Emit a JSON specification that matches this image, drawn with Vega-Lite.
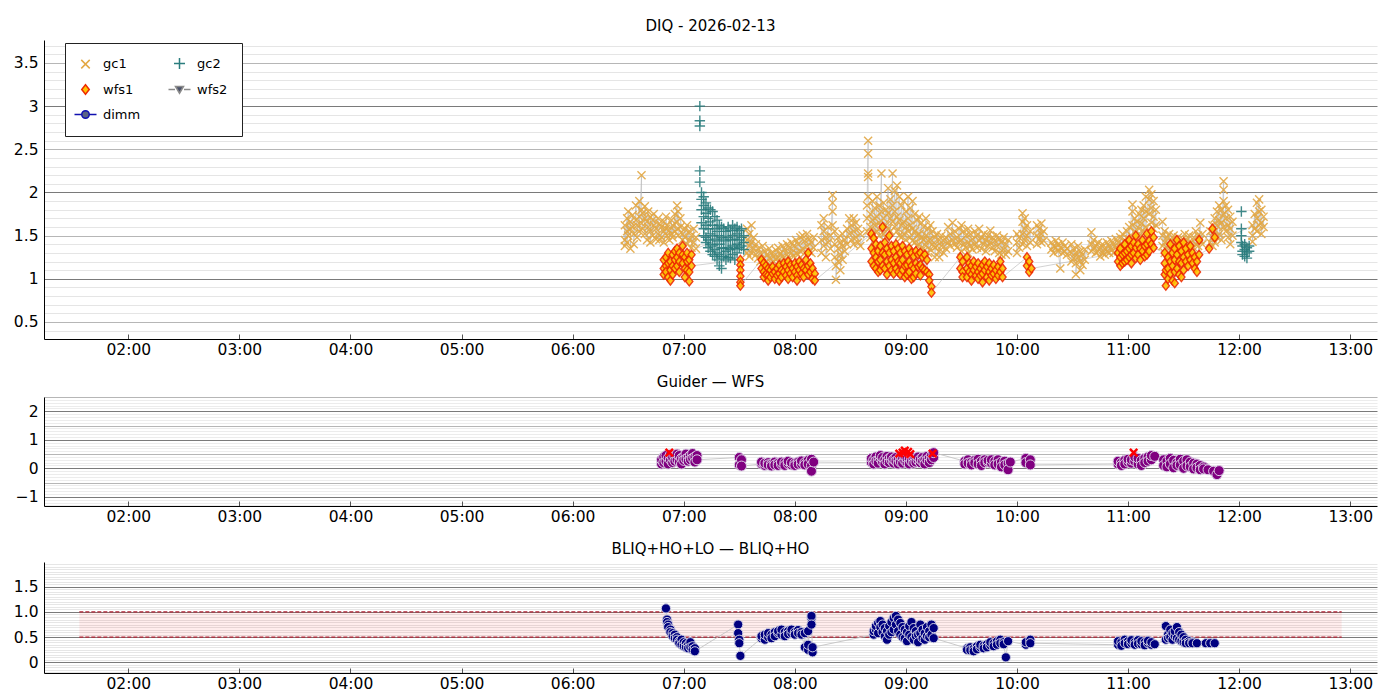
{
  "$schema": "https://vega.github.io/schema/vega-lite/v6.json",
  "padding": {"left": 0, "top": 18, "right": 23, "bottom": 4},
  "spacing": 17,
  "config": {
    "font": "DejaVu Sans",
    "view": {"stroke": null},
    "axis": {"labelFont": "DejaVu Sans", "labelFontSize": 15.5, "labelColor": "black", "domainColor": "black", "title": null},
    "title": {"font": "DejaVu Sans", "fontSize": 15, "fontWeight": "normal", "color": "black", "anchor": "middle", "offset": 0}
  },
  "datasets": {
    "top": [
      {"s":"gc1","t":6.47,"v":1.45},{"s":"gc1","t":6.47,"v":1.62},{"s":"gc1","t":6.47,"v":1.38},
      {"s":"gc1","t":6.49,"v":1.70},{"s":"gc1","t":6.49,"v":1.55},{"s":"gc1","t":6.49,"v":1.42},
      {"s":"gc1","t":6.50,"v":1.78},{"s":"gc1","t":6.50,"v":1.50},
      {"s":"gc1","t":6.52,"v":1.66},{"s":"gc1","t":6.52,"v":1.35},{"s":"gc1","t":6.52,"v":1.58},
      {"s":"gc1","t":6.54,"v":1.74},{"s":"gc1","t":6.54,"v":1.60},
      {"s":"gc1","t":6.55,"v":1.52},{"s":"gc1","t":6.55,"v":1.40},
      {"s":"gc1","t":6.57,"v":1.85},{"s":"gc1","t":6.57,"v":1.68},
      {"s":"gc1","t":6.58,"v":1.62},{"s":"gc1","t":6.58,"v":1.48},
      {"s":"gc1","t":6.60,"v":1.90},{"s":"gc1","t":6.60,"v":1.72},{"s":"gc1","t":6.60,"v":1.55},
      {"s":"gc1","t":6.62,"v":2.20},{"s":"gc1","t":6.62,"v":1.80},{"s":"gc1","t":6.62,"v":1.64},
      {"s":"gc1","t":6.63,"v":1.58},{"s":"gc1","t":6.63,"v":1.76},
      {"s":"gc1","t":6.65,"v":1.70},{"s":"gc1","t":6.65,"v":1.52},{"s":"gc1","t":6.65,"v":1.84},
      {"s":"gc1","t":6.67,"v":1.66},{"s":"gc1","t":6.67,"v":1.45},
      {"s":"gc1","t":6.68,"v":1.78},{"s":"gc1","t":6.68,"v":1.60},
      {"s":"gc1","t":6.70,"v":1.55},{"s":"gc1","t":6.70,"v":1.72},{"s":"gc1","t":6.70,"v":1.42},
      {"s":"gc1","t":6.72,"v":1.68},{"s":"gc1","t":6.72,"v":1.50},
      {"s":"gc1","t":6.73,"v":1.62},{"s":"gc1","t":6.73,"v":1.75},
      {"s":"gc1","t":6.75,"v":1.58},{"s":"gc1","t":6.75,"v":1.46},
      {"s":"gc1","t":6.77,"v":1.70},{"s":"gc1","t":6.77,"v":1.52},
      {"s":"gc1","t":6.78,"v":1.45},{"s":"gc1","t":6.78,"v":1.64},
      {"s":"gc1","t":6.80,"v":1.60},{"s":"gc1","t":6.80,"v":1.48},
      {"s":"gc1","t":6.82,"v":1.66},{"s":"gc1","t":6.82,"v":1.55},{"s":"gc1","t":6.82,"v":1.42},
      {"s":"gc1","t":6.84,"v":1.58},{"s":"gc1","t":6.84,"v":1.72},
      {"s":"gc1","t":6.85,"v":1.50},{"s":"gc1","t":6.85,"v":1.62},
      {"s":"gc1","t":6.87,"v":1.56},{"s":"gc1","t":6.87,"v":1.45},
      {"s":"gc1","t":6.89,"v":1.68},{"s":"gc1","t":6.89,"v":1.52},
      {"s":"gc1","t":6.90,"v":1.62},{"s":"gc1","t":6.90,"v":1.48},
      {"s":"gc1","t":6.92,"v":1.75},{"s":"gc1","t":6.92,"v":1.55},
      {"s":"gc1","t":6.94,"v":1.85},{"s":"gc1","t":6.94,"v":1.66},
      {"s":"gc1","t":6.95,"v":1.78},{"s":"gc1","t":6.95,"v":1.58},{"s":"gc1","t":6.95,"v":1.50},
      {"s":"gc1","t":6.97,"v":1.60},{"s":"gc1","t":6.97,"v":1.70},
      {"s":"gc1","t":6.99,"v":1.52},{"s":"gc1","t":6.99,"v":1.45},
      {"s":"gc1","t":7.01,"v":1.58},{"s":"gc1","t":7.01,"v":1.48},
      {"s":"gc1","t":7.03,"v":1.62},{"s":"gc1","t":7.03,"v":1.40},
      {"s":"gc1","t":7.05,"v":1.55},{"s":"gc1","t":7.05,"v":1.45},
      {"s":"gc1","t":7.07,"v":1.50},{"s":"gc1","t":7.07,"v":1.36},
      {"s":"gc1","t":7.09,"v":1.58},{"s":"gc1","t":7.09,"v":1.42},
      {"s":"gc1","t":7.11,"v":1.48},{"s":"gc1","t":7.11,"v":1.35},
      {"s":"gc1","t":7.57,"v":1.58},{"s":"gc1","t":7.57,"v":1.45},{"s":"gc1","t":7.57,"v":1.30},
      {"s":"gc1","t":7.59,"v":1.52},{"s":"gc1","t":7.59,"v":1.38},{"s":"gc1","t":7.59,"v":1.26},
      {"s":"gc1","t":7.61,"v":1.62},{"s":"gc1","t":7.61,"v":1.42},{"s":"gc1","t":7.61,"v":1.30},
      {"s":"gc1","t":7.63,"v":1.48},{"s":"gc1","t":7.63,"v":1.35},
      {"s":"gc1","t":7.65,"v":1.40},{"s":"gc1","t":7.65,"v":1.28},
      {"s":"gc1","t":7.67,"v":1.35},{"s":"gc1","t":7.67,"v":1.24},
      {"s":"gc1","t":7.69,"v":1.30},{"s":"gc1","t":7.69,"v":1.20},
      {"s":"gc1","t":7.71,"v":1.38},{"s":"gc1","t":7.71,"v":1.22},
      {"s":"gc1","t":7.73,"v":1.32},{"s":"gc1","t":7.73,"v":1.18},
      {"s":"gc1","t":7.75,"v":1.28},{"s":"gc1","t":7.75,"v":1.20},
      {"s":"gc1","t":7.77,"v":1.35},{"s":"gc1","t":7.77,"v":1.24},
      {"s":"gc1","t":7.79,"v":1.30},{"s":"gc1","t":7.79,"v":1.18},
      {"s":"gc1","t":7.81,"v":1.26},{"s":"gc1","t":7.81,"v":1.20},
      {"s":"gc1","t":7.83,"v":1.33},{"s":"gc1","t":7.83,"v":1.22},
      {"s":"gc1","t":7.85,"v":1.36},{"s":"gc1","t":7.85,"v":1.25},
      {"s":"gc1","t":7.87,"v":1.30},{"s":"gc1","t":7.87,"v":1.20},
      {"s":"gc1","t":7.89,"v":1.38},{"s":"gc1","t":7.89,"v":1.26},
      {"s":"gc1","t":7.91,"v":1.34},{"s":"gc1","t":7.91,"v":1.22},
      {"s":"gc1","t":7.93,"v":1.40},{"s":"gc1","t":7.93,"v":1.28},
      {"s":"gc1","t":7.95,"v":1.36},{"s":"gc1","t":7.95,"v":1.24},
      {"s":"gc1","t":7.97,"v":1.42},{"s":"gc1","t":7.97,"v":1.30},
      {"s":"gc1","t":7.99,"v":1.38},{"s":"gc1","t":7.99,"v":1.26},
      {"s":"gc1","t":8.01,"v":1.45},{"s":"gc1","t":8.01,"v":1.30},
      {"s":"gc1","t":8.03,"v":1.40},{"s":"gc1","t":8.03,"v":1.28},
      {"s":"gc1","t":8.05,"v":1.48},{"s":"gc1","t":8.05,"v":1.32},
      {"s":"gc1","t":8.07,"v":1.50},{"s":"gc1","t":8.07,"v":1.35},
      {"s":"gc1","t":8.09,"v":1.44},{"s":"gc1","t":8.09,"v":1.30},
      {"s":"gc1","t":8.11,"v":1.52},{"s":"gc1","t":8.11,"v":1.38},
      {"s":"gc1","t":8.13,"v":1.46},{"s":"gc1","t":8.13,"v":1.32},
      {"s":"gc1","t":8.15,"v":1.42},{"s":"gc1","t":8.15,"v":1.30},
      {"s":"gc1","t":8.17,"v":1.48},{"s":"gc1","t":8.17,"v":1.36},
      {"s":"gc1","t":8.24,"v":1.45},{"s":"gc1","t":8.24,"v":1.30},{"s":"gc1","t":8.24,"v":1.62},
      {"s":"gc1","t":8.26,"v":1.55},{"s":"gc1","t":8.26,"v":1.38},{"s":"gc1","t":8.26,"v":1.70},
      {"s":"gc1","t":8.28,"v":1.48},{"s":"gc1","t":8.28,"v":1.25},
      {"s":"gc1","t":8.30,"v":1.60},{"s":"gc1","t":8.30,"v":1.42},
      {"s":"gc1","t":8.32,"v":1.50},{"s":"gc1","t":8.32,"v":1.35},
      {"s":"gc1","t":8.34,"v":1.97},{"s":"gc1","t":8.34,"v":1.88},{"s":"gc1","t":8.34,"v":1.78},{"s":"gc1","t":8.34,"v":1.62},
      {"s":"gc1","t":8.36,"v":1.55},{"s":"gc1","t":8.36,"v":1.40},{"s":"gc1","t":8.36,"v":1.25},
      {"s":"gc1","t":8.37,"v":1.15},{"s":"gc1","t":8.37,"v":0.99},
      {"s":"gc1","t":8.39,"v":1.35},{"s":"gc1","t":8.39,"v":1.20},{"s":"gc1","t":8.39,"v":1.48},
      {"s":"gc1","t":8.41,"v":1.42},{"s":"gc1","t":8.41,"v":1.28},{"s":"gc1","t":8.41,"v":1.10},
      {"s":"gc1","t":8.43,"v":1.38},{"s":"gc1","t":8.43,"v":1.22},{"s":"gc1","t":8.43,"v":1.52},
      {"s":"gc1","t":8.45,"v":1.45},{"s":"gc1","t":8.45,"v":1.32},
      {"s":"gc1","t":8.47,"v":1.58},{"s":"gc1","t":8.47,"v":1.40},
      {"s":"gc1","t":8.49,"v":1.70},{"s":"gc1","t":8.49,"v":1.52},
      {"s":"gc1","t":8.51,"v":1.62},{"s":"gc1","t":8.51,"v":1.45},
      {"s":"gc1","t":8.53,"v":1.70},{"s":"gc1","t":8.53,"v":1.55},{"s":"gc1","t":8.53,"v":1.40},
      {"s":"gc1","t":8.55,"v":1.65},{"s":"gc1","t":8.55,"v":1.48},
      {"s":"gc1","t":8.57,"v":1.58},{"s":"gc1","t":8.57,"v":1.42},
      {"s":"gc1","t":8.59,"v":1.52},{"s":"gc1","t":8.59,"v":1.38},
      {"s":"gc1","t":8.65,"v":1.55},{"s":"gc1","t":8.65,"v":1.70},{"s":"gc1","t":8.65,"v":1.85},
      {"s":"gc1","t":8.66,"v":2.60},{"s":"gc1","t":8.66,"v":2.45},{"s":"gc1","t":8.66,"v":2.22},{"s":"gc1","t":8.66,"v":2.18},{"s":"gc1","t":8.66,"v":1.95},
      {"s":"gc1","t":8.68,"v":1.75},{"s":"gc1","t":8.68,"v":1.60},{"s":"gc1","t":8.68,"v":1.48},
      {"s":"gc1","t":8.70,"v":1.90},{"s":"gc1","t":8.70,"v":1.68},{"s":"gc1","t":8.70,"v":1.52},
      {"s":"gc1","t":8.72,"v":1.82},{"s":"gc1","t":8.72,"v":1.62},{"s":"gc1","t":8.72,"v":1.45},
      {"s":"gc1","t":8.74,"v":1.95},{"s":"gc1","t":8.74,"v":1.72},{"s":"gc1","t":8.74,"v":1.55},
      {"s":"gc1","t":8.76,"v":1.85},{"s":"gc1","t":8.76,"v":1.65},{"s":"gc1","t":8.76,"v":1.50},
      {"s":"gc1","t":8.78,"v":2.22},{"s":"gc1","t":8.78,"v":1.78},{"s":"gc1","t":8.78,"v":1.60},
      {"s":"gc1","t":8.80,"v":1.88},{"s":"gc1","t":8.80,"v":1.70},{"s":"gc1","t":8.80,"v":1.52},
      {"s":"gc1","t":8.82,"v":1.80},{"s":"gc1","t":8.82,"v":1.62},{"s":"gc1","t":8.82,"v":1.48},
      {"s":"gc1","t":8.84,"v":2.05},{"s":"gc1","t":8.84,"v":1.76},{"s":"gc1","t":8.84,"v":1.58},
      {"s":"gc1","t":8.86,"v":1.92},{"s":"gc1","t":8.86,"v":1.70},{"s":"gc1","t":8.86,"v":1.55},
      {"s":"gc1","t":8.88,"v":2.22},{"s":"gc1","t":8.88,"v":1.85},{"s":"gc1","t":8.88,"v":1.66},
      {"s":"gc1","t":8.90,"v":2.02},{"s":"gc1","t":8.90,"v":1.78},{"s":"gc1","t":8.90,"v":1.60},
      {"s":"gc1","t":8.92,"v":2.08},{"s":"gc1","t":8.92,"v":1.72},{"s":"gc1","t":8.92,"v":1.55},
      {"s":"gc1","t":8.94,"v":1.95},{"s":"gc1","t":8.94,"v":1.68},{"s":"gc1","t":8.94,"v":1.50},
      {"s":"gc1","t":8.96,"v":1.85},{"s":"gc1","t":8.96,"v":1.62},{"s":"gc1","t":8.96,"v":1.48},
      {"s":"gc1","t":8.98,"v":1.90},{"s":"gc1","t":8.98,"v":1.66},{"s":"gc1","t":8.98,"v":1.52},
      {"s":"gc1","t":9.00,"v":1.78},{"s":"gc1","t":9.00,"v":1.60},{"s":"gc1","t":9.00,"v":1.45},
      {"s":"gc1","t":9.02,"v":1.95},{"s":"gc1","t":9.02,"v":1.70},{"s":"gc1","t":9.02,"v":1.55},
      {"s":"gc1","t":9.04,"v":1.82},{"s":"gc1","t":9.04,"v":1.62},{"s":"gc1","t":9.04,"v":1.48},
      {"s":"gc1","t":9.06,"v":1.90},{"s":"gc1","t":9.06,"v":1.58},{"s":"gc1","t":9.06,"v":1.44},
      {"s":"gc1","t":9.08,"v":1.75},{"s":"gc1","t":9.08,"v":1.55},{"s":"gc1","t":9.08,"v":1.42},
      {"s":"gc1","t":9.10,"v":1.68},{"s":"gc1","t":9.10,"v":1.50},{"s":"gc1","t":9.10,"v":1.38},
      {"s":"gc1","t":9.12,"v":1.72},{"s":"gc1","t":9.12,"v":1.52},{"s":"gc1","t":9.12,"v":1.40},
      {"s":"gc1","t":9.14,"v":1.65},{"s":"gc1","t":9.14,"v":1.48},{"s":"gc1","t":9.14,"v":1.36},
      {"s":"gc1","t":9.16,"v":1.60},{"s":"gc1","t":9.16,"v":1.45},{"s":"gc1","t":9.16,"v":1.32},
      {"s":"gc1","t":9.18,"v":1.70},{"s":"gc1","t":9.18,"v":1.50},{"s":"gc1","t":9.18,"v":1.38},
      {"s":"gc1","t":9.20,"v":1.58},{"s":"gc1","t":9.20,"v":1.44},{"s":"gc1","t":9.20,"v":1.30},
      {"s":"gc1","t":9.22,"v":1.62},{"s":"gc1","t":9.22,"v":1.46},{"s":"gc1","t":9.22,"v":1.34},
      {"s":"gc1","t":9.24,"v":1.55},{"s":"gc1","t":9.24,"v":1.40},
      {"s":"gc1","t":9.26,"v":1.48},{"s":"gc1","t":9.26,"v":1.36},{"s":"gc1","t":9.26,"v":1.25},
      {"s":"gc1","t":9.28,"v":1.52},{"s":"gc1","t":9.28,"v":1.38},
      {"s":"gc1","t":9.30,"v":1.45},{"s":"gc1","t":9.30,"v":1.32},{"s":"gc1","t":9.30,"v":1.25},
      {"s":"gc1","t":9.32,"v":1.50},{"s":"gc1","t":9.32,"v":1.38},
      {"s":"gc1","t":9.34,"v":1.44},{"s":"gc1","t":9.34,"v":1.30},
      {"s":"gc1","t":9.36,"v":1.48},{"s":"gc1","t":9.36,"v":1.35},
      {"s":"gc1","t":9.38,"v":1.60},{"s":"gc1","t":9.38,"v":1.42},
      {"s":"gc1","t":9.40,"v":1.52},{"s":"gc1","t":9.40,"v":1.38},
      {"s":"gc1","t":9.42,"v":1.65},{"s":"gc1","t":9.42,"v":1.45},
      {"s":"gc1","t":9.44,"v":1.55},{"s":"gc1","t":9.44,"v":1.40},
      {"s":"gc1","t":9.46,"v":1.48},{"s":"gc1","t":9.46,"v":1.36},
      {"s":"gc1","t":9.48,"v":1.58},{"s":"gc1","t":9.48,"v":1.42},
      {"s":"gc1","t":9.50,"v":1.62},{"s":"gc1","t":9.50,"v":1.45},{"s":"gc1","t":9.50,"v":1.32},
      {"s":"gc1","t":9.52,"v":1.55},{"s":"gc1","t":9.52,"v":1.40},
      {"s":"gc1","t":9.54,"v":1.50},{"s":"gc1","t":9.54,"v":1.36},
      {"s":"gc1","t":9.56,"v":1.58},{"s":"gc1","t":9.56,"v":1.42},{"s":"gc1","t":9.56,"v":1.30},
      {"s":"gc1","t":9.58,"v":1.52},{"s":"gc1","t":9.58,"v":1.38},
      {"s":"gc1","t":9.60,"v":1.46},{"s":"gc1","t":9.60,"v":1.34},
      {"s":"gc1","t":9.62,"v":1.55},{"s":"gc1","t":9.62,"v":1.40},
      {"s":"gc1","t":9.64,"v":1.50},{"s":"gc1","t":9.64,"v":1.36},
      {"s":"gc1","t":9.66,"v":1.58},{"s":"gc1","t":9.66,"v":1.44},
      {"s":"gc1","t":9.68,"v":1.48},{"s":"gc1","t":9.68,"v":1.35},
      {"s":"gc1","t":9.70,"v":1.52},{"s":"gc1","t":9.70,"v":1.40},
      {"s":"gc1","t":9.72,"v":1.45},{"s":"gc1","t":9.72,"v":1.32},
      {"s":"gc1","t":9.74,"v":1.50},{"s":"gc1","t":9.74,"v":1.38},
      {"s":"gc1","t":9.76,"v":1.56},{"s":"gc1","t":9.76,"v":1.42},
      {"s":"gc1","t":9.78,"v":1.48},{"s":"gc1","t":9.78,"v":1.36},
      {"s":"gc1","t":9.80,"v":1.44},{"s":"gc1","t":9.80,"v":1.32},
      {"s":"gc1","t":9.82,"v":1.50},{"s":"gc1","t":9.82,"v":1.38},
      {"s":"gc1","t":9.84,"v":1.46},{"s":"gc1","t":9.84,"v":1.30},
      {"s":"gc1","t":9.86,"v":1.42},{"s":"gc1","t":9.86,"v":1.28},
      {"s":"gc1","t":9.88,"v":1.48},{"s":"gc1","t":9.88,"v":1.34},
      {"s":"gc1","t":9.90,"v":1.40},{"s":"gc1","t":9.90,"v":1.28},
      {"s":"gc1","t":9.92,"v":1.45},{"s":"gc1","t":9.92,"v":1.32},
      {"s":"gc1","t":10.00,"v":1.42},{"s":"gc1","t":10.00,"v":1.30},{"s":"gc1","t":10.00,"v":1.52},
      {"s":"gc1","t":10.02,"v":1.48},{"s":"gc1","t":10.02,"v":1.36},
      {"s":"gc1","t":10.05,"v":1.76},{"s":"gc1","t":10.05,"v":1.66},{"s":"gc1","t":10.05,"v":1.52},{"s":"gc1","t":10.05,"v":1.40},
      {"s":"gc1","t":10.07,"v":1.70},{"s":"gc1","t":10.07,"v":1.58},{"s":"gc1","t":10.07,"v":1.45},
      {"s":"gc1","t":10.09,"v":1.62},{"s":"gc1","t":10.09,"v":1.50},{"s":"gc1","t":10.09,"v":1.38},
      {"s":"gc1","t":10.12,"v":1.55},{"s":"gc1","t":10.12,"v":1.42},
      {"s":"gc1","t":10.18,"v":1.62},{"s":"gc1","t":10.18,"v":1.50},{"s":"gc1","t":10.18,"v":1.40},
      {"s":"gc1","t":10.20,"v":1.58},{"s":"gc1","t":10.20,"v":1.46},
      {"s":"gc1","t":10.22,"v":1.64},{"s":"gc1","t":10.22,"v":1.52},{"s":"gc1","t":10.22,"v":1.42},
      {"s":"gc1","t":10.24,"v":1.55},{"s":"gc1","t":10.24,"v":1.44},
      {"s":"gc1","t":10.31,"v":1.42},{"s":"gc1","t":10.31,"v":1.34},
      {"s":"gc1","t":10.33,"v":1.38},{"s":"gc1","t":10.33,"v":1.30},
      {"s":"gc1","t":10.35,"v":1.44},{"s":"gc1","t":10.35,"v":1.36},
      {"s":"gc1","t":10.37,"v":1.40},{"s":"gc1","t":10.37,"v":1.32},
      {"s":"gc1","t":10.39,"v":1.12},{"s":"gc1","t":10.39,"v":1.36},
      {"s":"gc1","t":10.41,"v":1.42},{"s":"gc1","t":10.41,"v":1.30},
      {"s":"gc1","t":10.43,"v":1.38},{"s":"gc1","t":10.43,"v":1.32},
      {"s":"gc1","t":10.45,"v":1.35},{"s":"gc1","t":10.45,"v":1.28},
      {"s":"gc1","t":10.49,"v":1.40},{"s":"gc1","t":10.49,"v":1.30},{"s":"gc1","t":10.49,"v":1.20},
      {"s":"gc1","t":10.51,"v":1.35},{"s":"gc1","t":10.51,"v":1.24},
      {"s":"gc1","t":10.53,"v":1.30},{"s":"gc1","t":10.53,"v":1.18},{"s":"gc1","t":10.53,"v":1.05},
      {"s":"gc1","t":10.55,"v":1.38},{"s":"gc1","t":10.55,"v":1.25},
      {"s":"gc1","t":10.57,"v":1.32},{"s":"gc1","t":10.57,"v":1.20},{"s":"gc1","t":10.57,"v":1.10},
      {"s":"gc1","t":10.59,"v":1.28},{"s":"gc1","t":10.59,"v":1.16},
      {"s":"gc1","t":10.61,"v":1.34},{"s":"gc1","t":10.61,"v":1.22},
      {"s":"gc1","t":10.67,"v":1.54},{"s":"gc1","t":10.67,"v":1.40},{"s":"gc1","t":10.67,"v":1.32},
      {"s":"gc1","t":10.69,"v":1.45},{"s":"gc1","t":10.69,"v":1.35},
      {"s":"gc1","t":10.71,"v":1.38},{"s":"gc1","t":10.71,"v":1.30},
      {"s":"gc1","t":10.73,"v":1.42},{"s":"gc1","t":10.73,"v":1.32},
      {"s":"gc1","t":10.75,"v":1.36},{"s":"gc1","t":10.75,"v":1.26},
      {"s":"gc1","t":10.77,"v":1.40},{"s":"gc1","t":10.77,"v":1.30},
      {"s":"gc1","t":10.79,"v":1.35},{"s":"gc1","t":10.79,"v":1.28},
      {"s":"gc1","t":10.81,"v":1.42},{"s":"gc1","t":10.81,"v":1.32},
      {"s":"gc1","t":10.83,"v":1.38},{"s":"gc1","t":10.83,"v":1.30},
      {"s":"gc1","t":10.85,"v":1.44},{"s":"gc1","t":10.85,"v":1.34},
      {"s":"gc1","t":10.87,"v":1.40},{"s":"gc1","t":10.87,"v":1.30},
      {"s":"gc1","t":10.89,"v":1.46},{"s":"gc1","t":10.89,"v":1.36},
      {"s":"gc1","t":10.91,"v":1.42},{"s":"gc1","t":10.91,"v":1.32},
      {"s":"gc1","t":10.93,"v":1.48},{"s":"gc1","t":10.93,"v":1.36},
      {"s":"gc1","t":10.95,"v":1.52},{"s":"gc1","t":10.95,"v":1.40},
      {"s":"gc1","t":10.97,"v":1.45},{"s":"gc1","t":10.97,"v":1.35},
      {"s":"gc1","t":10.99,"v":1.55},{"s":"gc1","t":10.99,"v":1.42},
      {"s":"gc1","t":11.01,"v":1.60},{"s":"gc1","t":11.01,"v":1.46},
      {"s":"gc1","t":11.04,"v":1.86},{"s":"gc1","t":11.04,"v":1.78},{"s":"gc1","t":11.04,"v":1.62},{"s":"gc1","t":11.04,"v":1.48},
      {"s":"gc1","t":11.06,"v":1.70},{"s":"gc1","t":11.06,"v":1.55},
      {"s":"gc1","t":11.08,"v":1.66},{"s":"gc1","t":11.08,"v":1.50},
      {"s":"gc1","t":11.10,"v":1.75},{"s":"gc1","t":11.10,"v":1.58},
      {"s":"gc1","t":11.12,"v":1.80},{"s":"gc1","t":11.12,"v":1.64},{"s":"gc1","t":11.12,"v":1.50},
      {"s":"gc1","t":11.14,"v":1.85},{"s":"gc1","t":11.14,"v":1.70},{"s":"gc1","t":11.14,"v":1.55},
      {"s":"gc1","t":11.16,"v":1.95},{"s":"gc1","t":11.16,"v":1.78},{"s":"gc1","t":11.16,"v":1.60},
      {"s":"gc1","t":11.19,"v":2.03},{"s":"gc1","t":11.19,"v":1.92},{"s":"gc1","t":11.19,"v":1.75},
      {"s":"gc1","t":11.21,"v":1.98},{"s":"gc1","t":11.21,"v":1.82},{"s":"gc1","t":11.21,"v":1.65},
      {"s":"gc1","t":11.23,"v":1.90},{"s":"gc1","t":11.23,"v":1.72},{"s":"gc1","t":11.23,"v":1.58},
      {"s":"gc1","t":11.25,"v":1.80},{"s":"gc1","t":11.25,"v":1.62},
      {"s":"gc1","t":11.31,"v":1.66},{"s":"gc1","t":11.31,"v":1.50},{"s":"gc1","t":11.31,"v":1.38},
      {"s":"gc1","t":11.33,"v":1.55},{"s":"gc1","t":11.33,"v":1.42},{"s":"gc1","t":11.33,"v":1.30},
      {"s":"gc1","t":11.35,"v":1.48},{"s":"gc1","t":11.35,"v":1.36},
      {"s":"gc1","t":11.37,"v":1.52},{"s":"gc1","t":11.37,"v":1.40},{"s":"gc1","t":11.37,"v":1.28},
      {"s":"gc1","t":11.39,"v":1.45},{"s":"gc1","t":11.39,"v":1.34},
      {"s":"gc1","t":11.41,"v":1.50},{"s":"gc1","t":11.41,"v":1.38},
      {"s":"gc1","t":11.43,"v":1.42},{"s":"gc1","t":11.43,"v":1.30},
      {"s":"gc1","t":11.45,"v":1.48},{"s":"gc1","t":11.45,"v":1.36},
      {"s":"gc1","t":11.47,"v":1.40},{"s":"gc1","t":11.47,"v":1.28},
      {"s":"gc1","t":11.49,"v":1.46},{"s":"gc1","t":11.49,"v":1.34},
      {"s":"gc1","t":11.51,"v":1.52},{"s":"gc1","t":11.51,"v":1.38},
      {"s":"gc1","t":11.53,"v":1.45},{"s":"gc1","t":11.53,"v":1.32},
      {"s":"gc1","t":11.55,"v":1.50},{"s":"gc1","t":11.55,"v":1.40},
      {"s":"gc1","t":11.57,"v":1.42},{"s":"gc1","t":11.57,"v":1.30},
      {"s":"gc1","t":11.59,"v":1.48},{"s":"gc1","t":11.59,"v":1.36},
      {"s":"gc1","t":11.61,"v":1.55},{"s":"gc1","t":11.61,"v":1.40},
      {"s":"gc1","t":11.63,"v":1.50},{"s":"gc1","t":11.63,"v":1.38},
      {"s":"gc1","t":11.65,"v":1.65},{"s":"gc1","t":11.65,"v":1.45},
      {"s":"gc1","t":11.67,"v":1.52},{"s":"gc1","t":11.67,"v":1.40},
      {"s":"gc1","t":11.74,"v":1.55},{"s":"gc1","t":11.74,"v":1.42},
      {"s":"gc1","t":11.76,"v":1.62},{"s":"gc1","t":11.76,"v":1.48},{"s":"gc1","t":11.76,"v":1.38},
      {"s":"gc1","t":11.78,"v":1.70},{"s":"gc1","t":11.78,"v":1.55},{"s":"gc1","t":11.78,"v":1.42},
      {"s":"gc1","t":11.80,"v":1.78},{"s":"gc1","t":11.80,"v":1.62},{"s":"gc1","t":11.80,"v":1.48},
      {"s":"gc1","t":11.82,"v":1.85},{"s":"gc1","t":11.82,"v":1.68},{"s":"gc1","t":11.82,"v":1.52},
      {"s":"gc1","t":11.84,"v":1.80},{"s":"gc1","t":11.84,"v":1.65},{"s":"gc1","t":11.84,"v":1.45},
      {"s":"gc1","t":11.86,"v":2.13},{"s":"gc1","t":11.86,"v":2.03},{"s":"gc1","t":11.86,"v":1.90},{"s":"gc1","t":11.86,"v":1.75},{"s":"gc1","t":11.86,"v":1.60},
      {"s":"gc1","t":11.88,"v":1.85},{"s":"gc1","t":11.88,"v":1.70},{"s":"gc1","t":11.88,"v":1.55},
      {"s":"gc1","t":11.90,"v":1.80},{"s":"gc1","t":11.90,"v":1.62},{"s":"gc1","t":11.90,"v":1.48},
      {"s":"gc1","t":11.92,"v":1.72},{"s":"gc1","t":11.92,"v":1.58},{"s":"gc1","t":11.92,"v":1.40},
      {"s":"gc1","t":11.94,"v":1.66},{"s":"gc1","t":11.94,"v":1.50},
      {"s":"gc1","t":12.12,"v":1.62},{"s":"gc1","t":12.12,"v":1.50},{"s":"gc1","t":12.12,"v":1.43},
      {"s":"gc1","t":12.14,"v":1.75},{"s":"gc1","t":12.14,"v":1.58},
      {"s":"gc1","t":12.16,"v":1.88},{"s":"gc1","t":12.16,"v":1.70},{"s":"gc1","t":12.16,"v":1.55},
      {"s":"gc1","t":12.18,"v":1.92},{"s":"gc1","t":12.18,"v":1.78},{"s":"gc1","t":12.18,"v":1.62},
      {"s":"gc1","t":12.20,"v":1.80},{"s":"gc1","t":12.20,"v":1.65},{"s":"gc1","t":12.20,"v":1.52},
      {"s":"gc1","t":12.22,"v":1.72},{"s":"gc1","t":12.22,"v":1.60},
      {"s":"gc2","t":7.145,"v":3.00},{"s":"gc2","t":7.145,"v":2.83},{"s":"gc2","t":7.145,"v":2.77},{"s":"gc2","t":7.145,"v":2.25},{"s":"gc2","t":7.145,"v":2.12},
      {"s":"gc2","t":7.16,"v":2.00},{"s":"gc2","t":7.16,"v":1.92},{"s":"gc2","t":7.16,"v":1.80},{"s":"gc2","t":7.16,"v":1.65},
      {"s":"gc2","t":7.18,"v":1.95},{"s":"gc2","t":7.18,"v":1.85},{"s":"gc2","t":7.18,"v":1.72},{"s":"gc2","t":7.18,"v":1.58},{"s":"gc2","t":7.18,"v":1.50},
      {"s":"gc2","t":7.20,"v":1.88},{"s":"gc2","t":7.20,"v":1.76},{"s":"gc2","t":7.20,"v":1.62},{"s":"gc2","t":7.20,"v":1.48},{"s":"gc2","t":7.20,"v":1.42},
      {"s":"gc2","t":7.22,"v":1.82},{"s":"gc2","t":7.22,"v":1.70},{"s":"gc2","t":7.22,"v":1.58},{"s":"gc2","t":7.22,"v":1.45},{"s":"gc2","t":7.22,"v":1.36},
      {"s":"gc2","t":7.24,"v":1.80},{"s":"gc2","t":7.24,"v":1.66},{"s":"gc2","t":7.24,"v":1.52},{"s":"gc2","t":7.24,"v":1.40},{"s":"gc2","t":7.24,"v":1.32},
      {"s":"gc2","t":7.26,"v":1.78},{"s":"gc2","t":7.26,"v":1.62},{"s":"gc2","t":7.26,"v":1.50},{"s":"gc2","t":7.26,"v":1.38},{"s":"gc2","t":7.26,"v":1.28},
      {"s":"gc2","t":7.28,"v":1.72},{"s":"gc2","t":7.28,"v":1.58},{"s":"gc2","t":7.28,"v":1.46},{"s":"gc2","t":7.28,"v":1.34},{"s":"gc2","t":7.28,"v":1.26},
      {"s":"gc2","t":7.30,"v":1.68},{"s":"gc2","t":7.30,"v":1.55},{"s":"gc2","t":7.30,"v":1.44},{"s":"gc2","t":7.30,"v":1.30},{"s":"gc2","t":7.30,"v":1.22},
      {"s":"gc2","t":7.32,"v":1.62},{"s":"gc2","t":7.32,"v":1.50},{"s":"gc2","t":7.32,"v":1.40},{"s":"gc2","t":7.32,"v":1.28},{"s":"gc2","t":7.32,"v":1.15},
      {"s":"gc2","t":7.34,"v":1.60},{"s":"gc2","t":7.34,"v":1.48},{"s":"gc2","t":7.34,"v":1.36},{"s":"gc2","t":7.34,"v":1.24},{"s":"gc2","t":7.34,"v":1.12},
      {"s":"gc2","t":7.36,"v":1.58},{"s":"gc2","t":7.36,"v":1.46},{"s":"gc2","t":7.36,"v":1.35},{"s":"gc2","t":7.36,"v":1.26},
      {"s":"gc2","t":7.38,"v":1.55},{"s":"gc2","t":7.38,"v":1.44},{"s":"gc2","t":7.38,"v":1.32},{"s":"gc2","t":7.38,"v":1.22},
      {"s":"gc2","t":7.40,"v":1.60},{"s":"gc2","t":7.40,"v":1.48},{"s":"gc2","t":7.40,"v":1.36},{"s":"gc2","t":7.40,"v":1.25},
      {"s":"gc2","t":7.42,"v":1.56},{"s":"gc2","t":7.42,"v":1.45},{"s":"gc2","t":7.42,"v":1.34},{"s":"gc2","t":7.42,"v":1.24},
      {"s":"gc2","t":7.44,"v":1.62},{"s":"gc2","t":7.44,"v":1.50},{"s":"gc2","t":7.44,"v":1.38},{"s":"gc2","t":7.44,"v":1.28},
      {"s":"gc2","t":7.46,"v":1.58},{"s":"gc2","t":7.46,"v":1.46},{"s":"gc2","t":7.46,"v":1.35},{"s":"gc2","t":7.46,"v":1.22},
      {"s":"gc2","t":7.48,"v":1.60},{"s":"gc2","t":7.48,"v":1.52},{"s":"gc2","t":7.48,"v":1.40},{"s":"gc2","t":7.48,"v":1.30},
      {"s":"gc2","t":7.50,"v":1.56},{"s":"gc2","t":7.50,"v":1.45},{"s":"gc2","t":7.50,"v":1.36},
      {"s":"gc2","t":7.52,"v":1.58},{"s":"gc2","t":7.52,"v":1.48},{"s":"gc2","t":7.52,"v":1.38},
      {"s":"gc2","t":7.54,"v":1.50},{"s":"gc2","t":7.54,"v":1.42},{"s":"gc2","t":7.54,"v":1.34},
      {"s":"gc2","t":12.02,"v":1.78},{"s":"gc2","t":12.02,"v":1.58},{"s":"gc2","t":12.02,"v":1.50},{"s":"gc2","t":12.02,"v":1.42},
      {"s":"gc2","t":12.03,"v":1.38},{"s":"gc2","t":12.03,"v":1.32},{"s":"gc2","t":12.03,"v":1.28},
      {"s":"gc2","t":12.05,"v":1.40},{"s":"gc2","t":12.05,"v":1.34},{"s":"gc2","t":12.05,"v":1.26},
      {"s":"gc2","t":12.07,"v":1.36},{"s":"gc2","t":12.07,"v":1.30},{"s":"gc2","t":12.07,"v":1.24},
      {"s":"gc2","t":12.09,"v":1.38},{"s":"gc2","t":12.09,"v":1.32},
      {"s":"wfs1","t":6.82,"v":1.22},{"s":"wfs1","t":6.82,"v":1.12},{"s":"wfs1","t":6.82,"v":1.05},
      {"s":"wfs1","t":6.84,"v":1.25},{"s":"wfs1","t":6.84,"v":1.15},{"s":"wfs1","t":6.84,"v":1.08},
      {"s":"wfs1","t":6.86,"v":1.30},{"s":"wfs1","t":6.86,"v":1.18},{"s":"wfs1","t":6.86,"v":1.02},
      {"s":"wfs1","t":6.88,"v":1.20},{"s":"wfs1","t":6.88,"v":1.10},{"s":"wfs1","t":6.88,"v":0.98},
      {"s":"wfs1","t":6.90,"v":1.28},{"s":"wfs1","t":6.90,"v":1.15},{"s":"wfs1","t":6.90,"v":1.05},
      {"s":"wfs1","t":6.92,"v":1.32},{"s":"wfs1","t":6.92,"v":1.22},{"s":"wfs1","t":6.92,"v":1.12},
      {"s":"wfs1","t":6.94,"v":1.35},{"s":"wfs1","t":6.94,"v":1.25},{"s":"wfs1","t":6.94,"v":1.15},
      {"s":"wfs1","t":6.96,"v":1.30},{"s":"wfs1","t":6.96,"v":1.20},{"s":"wfs1","t":6.96,"v":1.08},
      {"s":"wfs1","t":6.99,"v":1.38},{"s":"wfs1","t":6.99,"v":1.28},{"s":"wfs1","t":6.99,"v":1.18},
      {"s":"wfs1","t":7.01,"v":1.25},{"s":"wfs1","t":7.01,"v":1.12},{"s":"wfs1","t":7.01,"v":1.02},
      {"s":"wfs1","t":7.03,"v":1.30},{"s":"wfs1","t":7.03,"v":1.20},{"s":"wfs1","t":7.03,"v":1.10},
      {"s":"wfs1","t":7.05,"v":1.22},{"s":"wfs1","t":7.05,"v":1.08},{"s":"wfs1","t":7.05,"v":0.97},
      {"s":"wfs1","t":7.07,"v":1.28},{"s":"wfs1","t":7.07,"v":1.15},
      {"s":"wfs1","t":7.51,"v":1.22},{"s":"wfs1","t":7.51,"v":1.16},{"s":"wfs1","t":7.51,"v":1.10},{"s":"wfs1","t":7.51,"v":1.03},{"s":"wfs1","t":7.51,"v":0.96},{"s":"wfs1","t":7.51,"v":0.92},
      {"s":"wfs1","t":7.70,"v":1.22},{"s":"wfs1","t":7.70,"v":1.12},
      {"s":"wfs1","t":7.72,"v":1.18},{"s":"wfs1","t":7.72,"v":1.08},{"s":"wfs1","t":7.72,"v":1.02},
      {"s":"wfs1","t":7.74,"v":1.15},{"s":"wfs1","t":7.74,"v":1.05},
      {"s":"wfs1","t":7.76,"v":1.12},{"s":"wfs1","t":7.76,"v":1.04},{"s":"wfs1","t":7.76,"v":0.98},
      {"s":"wfs1","t":7.78,"v":1.10},{"s":"wfs1","t":7.78,"v":1.02},
      {"s":"wfs1","t":7.80,"v":1.14},{"s":"wfs1","t":7.80,"v":1.06},
      {"s":"wfs1","t":7.82,"v":1.08},{"s":"wfs1","t":7.82,"v":1.00},
      {"s":"wfs1","t":7.84,"v":1.12},{"s":"wfs1","t":7.84,"v":1.04},
      {"s":"wfs1","t":7.86,"v":1.16},{"s":"wfs1","t":7.86,"v":1.06},{"s":"wfs1","t":7.86,"v":0.98},
      {"s":"wfs1","t":7.88,"v":1.10},{"s":"wfs1","t":7.88,"v":1.02},
      {"s":"wfs1","t":7.90,"v":1.18},{"s":"wfs1","t":7.90,"v":1.08},
      {"s":"wfs1","t":7.92,"v":1.14},{"s":"wfs1","t":7.92,"v":1.04},
      {"s":"wfs1","t":7.94,"v":1.20},{"s":"wfs1","t":7.94,"v":1.10},{"s":"wfs1","t":7.94,"v":1.00},
      {"s":"wfs1","t":7.96,"v":1.16},{"s":"wfs1","t":7.96,"v":1.06},
      {"s":"wfs1","t":7.98,"v":1.12},{"s":"wfs1","t":7.98,"v":1.02},
      {"s":"wfs1","t":8.00,"v":1.18},{"s":"wfs1","t":8.00,"v":1.08},
      {"s":"wfs1","t":8.02,"v":1.14},{"s":"wfs1","t":8.02,"v":1.04},{"s":"wfs1","t":8.02,"v":0.98},
      {"s":"wfs1","t":8.04,"v":1.20},{"s":"wfs1","t":8.04,"v":1.10},
      {"s":"wfs1","t":8.06,"v":1.16},{"s":"wfs1","t":8.06,"v":1.06},
      {"s":"wfs1","t":8.08,"v":1.12},{"s":"wfs1","t":8.08,"v":1.02},
      {"s":"wfs1","t":8.10,"v":1.22},{"s":"wfs1","t":8.10,"v":1.10},
      {"s":"wfs1","t":8.12,"v":1.30},{"s":"wfs1","t":8.12,"v":1.15},{"s":"wfs1","t":8.12,"v":1.05},
      {"s":"wfs1","t":8.14,"v":1.18},{"s":"wfs1","t":8.14,"v":1.08},
      {"s":"wfs1","t":8.16,"v":1.12},{"s":"wfs1","t":8.16,"v":1.00},
      {"s":"wfs1","t":8.18,"v":1.06},{"s":"wfs1","t":8.18,"v":0.98},
      {"s":"wfs1","t":8.69,"v":1.52},{"s":"wfs1","t":8.69,"v":1.35},{"s":"wfs1","t":8.69,"v":1.20},
      {"s":"wfs1","t":8.71,"v":1.47},{"s":"wfs1","t":8.71,"v":1.30},{"s":"wfs1","t":8.71,"v":1.15},
      {"s":"wfs1","t":8.73,"v":1.40},{"s":"wfs1","t":8.73,"v":1.25},{"s":"wfs1","t":8.73,"v":1.12},
      {"s":"wfs1","t":8.75,"v":1.32},{"s":"wfs1","t":8.75,"v":1.20},{"s":"wfs1","t":8.75,"v":1.08},
      {"s":"wfs1","t":8.77,"v":1.38},{"s":"wfs1","t":8.77,"v":1.22},{"s":"wfs1","t":8.77,"v":1.10},
      {"s":"wfs1","t":8.79,"v":1.60},{"s":"wfs1","t":8.79,"v":1.30},{"s":"wfs1","t":8.79,"v":1.15},
      {"s":"wfs1","t":8.81,"v":1.42},{"s":"wfs1","t":8.81,"v":1.28},{"s":"wfs1","t":8.81,"v":1.12},
      {"s":"wfs1","t":8.83,"v":1.35},{"s":"wfs1","t":8.83,"v":1.20},{"s":"wfs1","t":8.83,"v":1.05},
      {"s":"wfs1","t":8.85,"v":1.50},{"s":"wfs1","t":8.85,"v":1.30},{"s":"wfs1","t":8.85,"v":1.15},
      {"s":"wfs1","t":8.87,"v":1.38},{"s":"wfs1","t":8.87,"v":1.22},{"s":"wfs1","t":8.87,"v":1.10},
      {"s":"wfs1","t":8.89,"v":1.32},{"s":"wfs1","t":8.89,"v":1.18},{"s":"wfs1","t":8.89,"v":1.06},
      {"s":"wfs1","t":8.91,"v":1.40},{"s":"wfs1","t":8.91,"v":1.25},{"s":"wfs1","t":8.91,"v":1.12},
      {"s":"wfs1","t":8.93,"v":1.35},{"s":"wfs1","t":8.93,"v":1.20},{"s":"wfs1","t":8.93,"v":1.08},
      {"s":"wfs1","t":8.95,"v":1.30},{"s":"wfs1","t":8.95,"v":1.18},{"s":"wfs1","t":8.95,"v":1.05},
      {"s":"wfs1","t":8.97,"v":1.38},{"s":"wfs1","t":8.97,"v":1.22},{"s":"wfs1","t":8.97,"v":1.10},
      {"s":"wfs1","t":8.99,"v":1.32},{"s":"wfs1","t":8.99,"v":1.15},{"s":"wfs1","t":8.99,"v":1.02},
      {"s":"wfs1","t":9.01,"v":1.28},{"s":"wfs1","t":9.01,"v":1.16},{"s":"wfs1","t":9.01,"v":1.05},
      {"s":"wfs1","t":9.03,"v":1.35},{"s":"wfs1","t":9.03,"v":1.20},{"s":"wfs1","t":9.03,"v":1.08},
      {"s":"wfs1","t":9.05,"v":1.30},{"s":"wfs1","t":9.05,"v":1.15},{"s":"wfs1","t":9.05,"v":1.00},
      {"s":"wfs1","t":9.07,"v":1.26},{"s":"wfs1","t":9.07,"v":1.12},{"s":"wfs1","t":9.07,"v":1.02},
      {"s":"wfs1","t":9.09,"v":1.32},{"s":"wfs1","t":9.09,"v":1.18},{"s":"wfs1","t":9.09,"v":1.06},
      {"s":"wfs1","t":9.11,"v":1.28},{"s":"wfs1","t":9.11,"v":1.14},
      {"s":"wfs1","t":9.13,"v":1.30},{"s":"wfs1","t":9.13,"v":1.16},{"s":"wfs1","t":9.13,"v":1.04},
      {"s":"wfs1","t":9.15,"v":1.25},{"s":"wfs1","t":9.15,"v":1.12},
      {"s":"wfs1","t":9.17,"v":1.28},{"s":"wfs1","t":9.17,"v":1.10},
      {"s":"wfs1","t":9.19,"v":1.22},{"s":"wfs1","t":9.19,"v":1.08},
      {"s":"wfs1","t":9.21,"v":1.05},{"s":"wfs1","t":9.21,"v":0.98},
      {"s":"wfs1","t":9.23,"v":0.91},{"s":"wfs1","t":9.23,"v":0.84},
      {"s":"wfs1","t":9.49,"v":1.25},{"s":"wfs1","t":9.49,"v":1.12},
      {"s":"wfs1","t":9.51,"v":1.20},{"s":"wfs1","t":9.51,"v":1.08},{"s":"wfs1","t":9.51,"v":1.02},
      {"s":"wfs1","t":9.55,"v":1.25},{"s":"wfs1","t":9.55,"v":1.12},{"s":"wfs1","t":9.55,"v":1.02},
      {"s":"wfs1","t":9.57,"v":1.18},{"s":"wfs1","t":9.57,"v":1.08},
      {"s":"wfs1","t":9.59,"v":1.15},{"s":"wfs1","t":9.59,"v":1.05},{"s":"wfs1","t":9.59,"v":0.98},
      {"s":"wfs1","t":9.61,"v":1.20},{"s":"wfs1","t":9.61,"v":1.10},
      {"s":"wfs1","t":9.63,"v":1.14},{"s":"wfs1","t":9.63,"v":1.04},
      {"s":"wfs1","t":9.65,"v":1.18},{"s":"wfs1","t":9.65,"v":1.08},{"s":"wfs1","t":9.65,"v":1.00},
      {"s":"wfs1","t":9.67,"v":1.12},{"s":"wfs1","t":9.67,"v":1.04},
      {"s":"wfs1","t":9.69,"v":1.16},{"s":"wfs1","t":9.69,"v":1.06},{"s":"wfs1","t":9.69,"v":0.96},
      {"s":"wfs1","t":9.71,"v":1.20},{"s":"wfs1","t":9.71,"v":1.10},
      {"s":"wfs1","t":9.73,"v":1.14},{"s":"wfs1","t":9.73,"v":1.02},
      {"s":"wfs1","t":9.75,"v":1.18},{"s":"wfs1","t":9.75,"v":1.08},{"s":"wfs1","t":9.75,"v":0.98},
      {"s":"wfs1","t":9.77,"v":1.12},{"s":"wfs1","t":9.77,"v":1.04},
      {"s":"wfs1","t":9.79,"v":1.16},{"s":"wfs1","t":9.79,"v":1.06},
      {"s":"wfs1","t":9.81,"v":1.10},{"s":"wfs1","t":9.81,"v":1.00},
      {"s":"wfs1","t":9.83,"v":1.14},{"s":"wfs1","t":9.83,"v":1.04},
      {"s":"wfs1","t":9.85,"v":1.20},{"s":"wfs1","t":9.85,"v":1.08},
      {"s":"wfs1","t":9.87,"v":1.12},{"s":"wfs1","t":9.87,"v":1.02},
      {"s":"wfs1","t":10.09,"v":1.25},{"s":"wfs1","t":10.09,"v":1.15},
      {"s":"wfs1","t":10.11,"v":1.20},{"s":"wfs1","t":10.11,"v":1.08},
      {"s":"wfs1","t":10.13,"v":1.12},
      {"s":"wfs1","t":10.91,"v":1.30},{"s":"wfs1","t":10.91,"v":1.20},
      {"s":"wfs1","t":10.93,"v":1.35},{"s":"wfs1","t":10.93,"v":1.25},{"s":"wfs1","t":10.93,"v":1.15},
      {"s":"wfs1","t":10.95,"v":1.28},{"s":"wfs1","t":10.95,"v":1.18},
      {"s":"wfs1","t":10.97,"v":1.40},{"s":"wfs1","t":10.97,"v":1.30},{"s":"wfs1","t":10.97,"v":1.20},
      {"s":"wfs1","t":10.99,"v":1.32},{"s":"wfs1","t":10.99,"v":1.22},
      {"s":"wfs1","t":11.01,"v":1.45},{"s":"wfs1","t":11.01,"v":1.35},{"s":"wfs1","t":11.01,"v":1.25},
      {"s":"wfs1","t":11.03,"v":1.38},{"s":"wfs1","t":11.03,"v":1.28},{"s":"wfs1","t":11.03,"v":1.18},
      {"s":"wfs1","t":11.05,"v":1.42},{"s":"wfs1","t":11.05,"v":1.30},
      {"s":"wfs1","t":11.07,"v":1.50},{"s":"wfs1","t":11.07,"v":1.36},{"s":"wfs1","t":11.07,"v":1.24},
      {"s":"wfs1","t":11.09,"v":1.40},{"s":"wfs1","t":11.09,"v":1.28},
      {"s":"wfs1","t":11.11,"v":1.35},{"s":"wfs1","t":11.11,"v":1.22},
      {"s":"wfs1","t":11.13,"v":1.45},{"s":"wfs1","t":11.13,"v":1.32},
      {"s":"wfs1","t":11.15,"v":1.38},{"s":"wfs1","t":11.15,"v":1.26},
      {"s":"wfs1","t":11.17,"v":1.52},{"s":"wfs1","t":11.17,"v":1.40},{"s":"wfs1","t":11.17,"v":1.28},
      {"s":"wfs1","t":11.19,"v":1.44},{"s":"wfs1","t":11.19,"v":1.32},
      {"s":"wfs1","t":11.21,"v":1.55},{"s":"wfs1","t":11.21,"v":1.40},
      {"s":"wfs1","t":11.23,"v":1.48},{"s":"wfs1","t":11.23,"v":1.36},
      {"s":"wfs1","t":11.33,"v":1.30},{"s":"wfs1","t":11.33,"v":1.18},{"s":"wfs1","t":11.33,"v":1.05},
      {"s":"wfs1","t":11.34,"v":0.92},{"s":"wfs1","t":11.34,"v":1.10},
      {"s":"wfs1","t":11.36,"v":1.25},{"s":"wfs1","t":11.36,"v":1.12},{"s":"wfs1","t":11.36,"v":1.00},
      {"s":"wfs1","t":11.38,"v":1.40},{"s":"wfs1","t":11.38,"v":1.20},{"s":"wfs1","t":11.38,"v":1.06},
      {"s":"wfs1","t":11.40,"v":1.30},{"s":"wfs1","t":11.40,"v":1.15},{"s":"wfs1","t":11.40,"v":0.98},
      {"s":"wfs1","t":11.42,"v":1.35},{"s":"wfs1","t":11.42,"v":1.22},{"s":"wfs1","t":11.42,"v":1.08},{"s":"wfs1","t":11.42,"v":0.95},
      {"s":"wfs1","t":11.44,"v":1.45},{"s":"wfs1","t":11.44,"v":1.28},{"s":"wfs1","t":11.44,"v":1.12},
      {"s":"wfs1","t":11.46,"v":1.38},{"s":"wfs1","t":11.46,"v":1.20},{"s":"wfs1","t":11.46,"v":1.05},
      {"s":"wfs1","t":11.48,"v":1.32},{"s":"wfs1","t":11.48,"v":1.18},{"s":"wfs1","t":11.48,"v":1.02},
      {"s":"wfs1","t":11.50,"v":1.42},{"s":"wfs1","t":11.50,"v":1.25},{"s":"wfs1","t":11.50,"v":1.10},
      {"s":"wfs1","t":11.52,"v":1.35},{"s":"wfs1","t":11.52,"v":1.20},
      {"s":"wfs1","t":11.54,"v":1.28},{"s":"wfs1","t":11.54,"v":1.15},
      {"s":"wfs1","t":11.56,"v":1.38},{"s":"wfs1","t":11.56,"v":1.22},
      {"s":"wfs1","t":11.58,"v":1.30},{"s":"wfs1","t":11.58,"v":1.18},
      {"s":"wfs1","t":11.60,"v":1.25},{"s":"wfs1","t":11.60,"v":1.12},
      {"s":"wfs1","t":11.62,"v":1.20},{"s":"wfs1","t":11.62,"v":1.08},
      {"s":"wfs1","t":11.64,"v":1.45},{"s":"wfs1","t":11.64,"v":1.28},
      {"s":"wfs1","t":11.73,"v":1.35},{"s":"wfs1","t":11.76,"v":1.58},{"s":"wfs1","t":11.78,"v":1.48}
    ],
    "mid": [
      {"s":"d","t":6.80,"v":0.15},{"s":"d","t":6.80,"v":0.30},{"s":"d","t":6.82,"v":0.40},{"s":"d","t":6.82,"v":0.20},
      {"s":"d","t":6.84,"v":0.25},{"s":"d","t":6.84,"v":0.45},{"s":"d","t":6.86,"v":0.35},{"s":"d","t":6.86,"v":0.15},
      {"s":"d","t":6.88,"v":0.30},{"s":"d","t":6.88,"v":0.48},{"s":"d","t":6.90,"v":0.20},{"s":"d","t":6.90,"v":0.38},
      {"s":"d","t":6.92,"v":0.42},{"s":"d","t":6.92,"v":0.25},{"s":"d","t":6.94,"v":0.30},{"s":"d","t":6.94,"v":0.50},
      {"s":"d","t":6.96,"v":0.45},{"s":"d","t":6.96,"v":0.22},{"s":"d","t":6.98,"v":0.35},{"s":"d","t":6.98,"v":0.15},
      {"s":"d","t":7.00,"v":0.40},{"s":"d","t":7.00,"v":0.28},{"s":"d","t":7.02,"v":0.50},{"s":"d","t":7.02,"v":0.32},
      {"s":"d","t":7.04,"v":0.38},{"s":"d","t":7.04,"v":0.25},{"s":"d","t":7.06,"v":0.45},{"s":"d","t":7.06,"v":0.30},
      {"s":"d","t":7.08,"v":0.52},{"s":"d","t":7.08,"v":0.35},{"s":"d","t":7.10,"v":0.40},{"s":"d","t":7.10,"v":0.22},
      {"s":"d","t":7.12,"v":0.45},{"s":"d","t":7.12,"v":0.30},
      {"s":"d","t":7.50,"v":0.38},{"s":"d","t":7.50,"v":0.12},{"s":"d","t":7.52,"v":0.30},{"s":"d","t":7.52,"v":0.08},
      {"s":"d","t":7.70,"v":0.15},{"s":"d","t":7.70,"v":0.22},{"s":"d","t":7.73,"v":0.10},{"s":"d","t":7.73,"v":0.18},
      {"s":"d","t":7.76,"v":0.20},{"s":"d","t":7.76,"v":0.12},{"s":"d","t":7.79,"v":0.15},{"s":"d","t":7.79,"v":0.08},
      {"s":"d","t":7.82,"v":0.22},{"s":"d","t":7.82,"v":0.12},{"s":"d","t":7.85,"v":0.18},{"s":"d","t":7.85,"v":0.10},
      {"s":"d","t":7.88,"v":0.14},{"s":"d","t":7.88,"v":0.22},{"s":"d","t":7.91,"v":0.20},{"s":"d","t":7.91,"v":0.10},
      {"s":"d","t":7.94,"v":0.16},{"s":"d","t":7.94,"v":0.25},{"s":"d","t":7.97,"v":0.12},{"s":"d","t":7.97,"v":0.20},
      {"s":"d","t":8.00,"v":0.18},{"s":"d","t":8.00,"v":0.10},{"s":"d","t":8.03,"v":0.22},{"s":"d","t":8.03,"v":0.14},
      {"s":"d","t":8.06,"v":0.15},{"s":"d","t":8.06,"v":0.26},{"s":"d","t":8.09,"v":0.20},{"s":"d","t":8.09,"v":0.12},
      {"s":"d","t":8.12,"v":0.28},{"s":"d","t":8.12,"v":0.15},{"s":"d","t":8.15,"v":0.32},{"s":"d","t":8.15,"v":0.10},
      {"s":"d","t":8.15,"v":-0.10},{"s":"d","t":8.17,"v":0.22},
      {"s":"d","t":8.69,"v":0.20},{"s":"d","t":8.69,"v":0.35},{"s":"d","t":8.71,"v":0.30},{"s":"d","t":8.71,"v":0.15},
      {"s":"d","t":8.73,"v":0.40},{"s":"d","t":8.73,"v":0.25},{"s":"d","t":8.75,"v":0.28},{"s":"d","t":8.75,"v":0.18},
      {"s":"d","t":8.77,"v":0.35},{"s":"d","t":8.77,"v":0.45},{"s":"d","t":8.79,"v":0.22},{"s":"d","t":8.79,"v":0.38},
      {"s":"d","t":8.81,"v":0.30},{"s":"d","t":8.81,"v":0.15},{"s":"d","t":8.83,"v":0.42},{"s":"d","t":8.83,"v":0.25},
      {"s":"d","t":8.85,"v":0.35},{"s":"d","t":8.85,"v":0.20},{"s":"d","t":8.87,"v":0.28},{"s":"d","t":8.87,"v":0.40},
      {"s":"d","t":8.89,"v":0.18},{"s":"d","t":8.89,"v":0.32},{"s":"d","t":8.91,"v":0.38},{"s":"d","t":8.91,"v":0.25},
      {"s":"d","t":8.93,"v":0.30},{"s":"d","t":8.93,"v":0.15},{"s":"d","t":8.95,"v":0.40},{"s":"d","t":8.95,"v":0.22},
      {"s":"d","t":8.97,"v":0.35},{"s":"d","t":8.97,"v":0.18},{"s":"d","t":8.99,"v":0.28},{"s":"d","t":8.99,"v":0.42},
      {"s":"d","t":9.01,"v":0.20},{"s":"d","t":9.01,"v":0.35},{"s":"d","t":9.03,"v":0.32},{"s":"d","t":9.03,"v":0.15},
      {"s":"d","t":9.05,"v":0.40},{"s":"d","t":9.05,"v":0.25},{"s":"d","t":9.07,"v":0.30},{"s":"d","t":9.07,"v":0.18},
      {"s":"d","t":9.09,"v":0.35},{"s":"d","t":9.09,"v":0.22},{"s":"d","t":9.11,"v":0.28},{"s":"d","t":9.11,"v":0.40},
      {"s":"d","t":9.13,"v":0.20},{"s":"d","t":9.13,"v":0.32},{"s":"d","t":9.15,"v":0.38},{"s":"d","t":9.15,"v":0.25},
      {"s":"d","t":9.17,"v":0.30},{"s":"d","t":9.17,"v":0.15},{"s":"d","t":9.19,"v":0.42},{"s":"d","t":9.19,"v":0.28},
      {"s":"d","t":9.21,"v":0.35},{"s":"d","t":9.21,"v":0.20},{"s":"d","t":9.23,"v":0.45},{"s":"d","t":9.23,"v":0.30},
      {"s":"d","t":9.25,"v":0.38},{"s":"d","t":9.25,"v":0.55},
      {"s":"d","t":9.53,"v":0.25},{"s":"d","t":9.53,"v":0.15},{"s":"d","t":9.56,"v":0.30},{"s":"d","t":9.56,"v":0.18},
      {"s":"d","t":9.59,"v":0.22},{"s":"d","t":9.59,"v":0.12},{"s":"d","t":9.62,"v":0.28},{"s":"d","t":9.62,"v":0.20},
      {"s":"d","t":9.65,"v":0.32},{"s":"d","t":9.65,"v":0.15},{"s":"d","t":9.68,"v":0.25},{"s":"d","t":9.68,"v":0.10},
      {"s":"d","t":9.71,"v":0.30},{"s":"d","t":9.71,"v":0.20},{"s":"d","t":9.74,"v":0.22},{"s":"d","t":9.74,"v":0.28},
      {"s":"d","t":9.77,"v":0.18},{"s":"d","t":9.77,"v":0.30},{"s":"d","t":9.80,"v":0.25},{"s":"d","t":9.80,"v":0.12},
      {"s":"d","t":9.83,"v":0.30},{"s":"d","t":9.83,"v":0.15},{"s":"d","t":9.86,"v":0.22},{"s":"d","t":9.86,"v":0.05},
      {"s":"d","t":9.89,"v":0.25},{"s":"d","t":9.89,"v":0.12},{"s":"d","t":9.92,"v":0.18},{"s":"d","t":9.92,"v":-0.05},
      {"s":"d","t":9.94,"v":0.22},
      {"s":"d","t":10.08,"v":0.35},{"s":"d","t":10.08,"v":0.20},{"s":"d","t":10.12,"v":0.30},{"s":"d","t":10.12,"v":0.12},
      {"s":"d","t":10.91,"v":0.15},{"s":"d","t":10.91,"v":0.25},{"s":"d","t":10.94,"v":0.20},{"s":"d","t":10.94,"v":0.10},
      {"s":"d","t":10.97,"v":0.28},{"s":"d","t":10.97,"v":0.15},{"s":"d","t":11.00,"v":0.22},{"s":"d","t":11.00,"v":0.32},
      {"s":"d","t":11.03,"v":0.18},{"s":"d","t":11.03,"v":0.30},{"s":"d","t":11.06,"v":0.25},{"s":"d","t":11.06,"v":0.40},
      {"s":"d","t":11.09,"v":0.15},{"s":"d","t":11.09,"v":0.35},{"s":"d","t":11.12,"v":0.28},{"s":"d","t":11.12,"v":0.10},
      {"s":"d","t":11.15,"v":0.35},{"s":"d","t":11.15,"v":0.20},{"s":"d","t":11.18,"v":0.40},{"s":"d","t":11.18,"v":0.25},
      {"s":"d","t":11.21,"v":0.30},{"s":"d","t":11.21,"v":0.45},{"s":"d","t":11.24,"v":0.42},
      {"s":"d","t":11.32,"v":0.30},{"s":"d","t":11.32,"v":0.10},{"s":"d","t":11.35,"v":0.25},{"s":"d","t":11.35,"v":0.05},
      {"s":"d","t":11.38,"v":0.35},{"s":"d","t":11.38,"v":0.15},{"s":"d","t":11.41,"v":0.28},{"s":"d","t":11.41,"v":0.02},
      {"s":"d","t":11.44,"v":0.20},{"s":"d","t":11.44,"v":0.10},{"s":"d","t":11.47,"v":0.32},{"s":"d","t":11.47,"v":0.12},
      {"s":"d","t":11.50,"v":0.25},{"s":"d","t":11.50,"v":0.00},{"s":"d","t":11.53,"v":0.30},{"s":"d","t":11.53,"v":0.08},
      {"s":"d","t":11.56,"v":0.22},{"s":"d","t":11.56,"v":0.05},{"s":"d","t":11.59,"v":0.18},{"s":"d","t":11.59,"v":-0.02},
      {"s":"d","t":11.62,"v":0.15},{"s":"d","t":11.62,"v":0.02},{"s":"d","t":11.65,"v":0.10},{"s":"d","t":11.65,"v":-0.05},
      {"s":"d","t":11.68,"v":0.05},{"s":"d","t":11.68,"v":-0.02},{"s":"d","t":11.72,"v":-0.05},{"s":"d","t":11.77,"v":-0.10},
      {"s":"d","t":11.80,"v":-0.22},{"s":"d","t":11.82,"v":-0.08},
      {"s":"x","t":6.87,"v":0.55},{"s":"x","t":8.94,"v":0.52},{"s":"x","t":8.97,"v":0.55},{"s":"x","t":8.99,"v":0.62},
      {"s":"x","t":9.02,"v":0.58},{"s":"x","t":9.04,"v":0.50},{"s":"x","t":9.24,"v":0.52},{"s":"x","t":11.05,"v":0.55}
    ],
    "bot": [
      {"k":"band","t":1.559,"t2":12.923,"v":0.5,"v2":1.0},
      {"k":"lim","t":1.559,"t2":12.923,"v":0.5},
      {"k":"lim","t":1.559,"t2":12.923,"v":1.0},
      {"k":"p","t":6.84,"v":1.07},{"k":"p","t":6.85,"v":0.85},{"k":"p","t":6.85,"v":0.80},{"k":"p","t":6.86,"v":0.75},{"k":"p","t":6.86,"v":0.70},
      {"k":"p","t":6.88,"v":0.65},{"k":"p","t":6.88,"v":0.60},{"k":"p","t":6.90,"v":0.58},{"k":"p","t":6.90,"v":0.52},
      {"k":"p","t":6.92,"v":0.55},{"k":"p","t":6.92,"v":0.48},{"k":"p","t":6.94,"v":0.50},{"k":"p","t":6.94,"v":0.45},
      {"k":"p","t":6.96,"v":0.42},{"k":"p","t":6.96,"v":0.38},{"k":"p","t":6.98,"v":0.45},{"k":"p","t":6.98,"v":0.35},
      {"k":"p","t":7.00,"v":0.40},{"k":"p","t":7.00,"v":0.32},{"k":"p","t":7.02,"v":0.38},{"k":"p","t":7.02,"v":0.30},
      {"k":"p","t":7.04,"v":0.35},{"k":"p","t":7.04,"v":0.28},{"k":"p","t":7.06,"v":0.40},{"k":"p","t":7.06,"v":0.30},
      {"k":"p","t":7.08,"v":0.32},{"k":"p","t":7.08,"v":0.25},{"k":"p","t":7.10,"v":0.28},{"k":"p","t":7.10,"v":0.22},
      {"k":"p","t":7.49,"v":0.75},{"k":"p","t":7.49,"v":0.58},{"k":"p","t":7.50,"v":0.45},{"k":"p","t":7.50,"v":0.38},{"k":"p","t":7.51,"v":0.13},
      {"k":"p","t":7.70,"v":0.48},{"k":"p","t":7.70,"v":0.52},{"k":"p","t":7.73,"v":0.45},{"k":"p","t":7.73,"v":0.55},
      {"k":"p","t":7.76,"v":0.50},{"k":"p","t":7.76,"v":0.58},{"k":"p","t":7.79,"v":0.55},{"k":"p","t":7.79,"v":0.48},
      {"k":"p","t":7.82,"v":0.60},{"k":"p","t":7.82,"v":0.52},{"k":"p","t":7.85,"v":0.58},{"k":"p","t":7.85,"v":0.62},
      {"k":"p","t":7.88,"v":0.55},{"k":"p","t":7.88,"v":0.65},{"k":"p","t":7.91,"v":0.60},{"k":"p","t":7.91,"v":0.52},
      {"k":"p","t":7.94,"v":0.62},{"k":"p","t":7.94,"v":0.56},{"k":"p","t":7.97,"v":0.58},{"k":"p","t":7.97,"v":0.65},
      {"k":"p","t":8.00,"v":0.60},{"k":"p","t":8.00,"v":0.55},{"k":"p","t":8.03,"v":0.64},{"k":"p","t":8.03,"v":0.58},
      {"k":"p","t":8.06,"v":0.60},{"k":"p","t":8.06,"v":0.55},{"k":"p","t":8.09,"v":0.30},{"k":"p","t":8.09,"v":0.58},
      {"k":"p","t":8.12,"v":0.25},{"k":"p","t":8.12,"v":0.62},{"k":"p","t":8.12,"v":0.35},{"k":"p","t":8.15,"v":0.88},
      {"k":"p","t":8.15,"v":0.92},{"k":"p","t":8.15,"v":0.75},{"k":"p","t":8.16,"v":0.20},{"k":"p","t":8.16,"v":0.30},
      {"k":"p","t":8.71,"v":0.55},{"k":"p","t":8.71,"v":0.62},{"k":"p","t":8.73,"v":0.65},{"k":"p","t":8.73,"v":0.72},
      {"k":"p","t":8.75,"v":0.78},{"k":"p","t":8.75,"v":0.58},{"k":"p","t":8.77,"v":0.82},{"k":"p","t":8.77,"v":0.70},
      {"k":"p","t":8.79,"v":0.75},{"k":"p","t":8.79,"v":0.60},{"k":"p","t":8.81,"v":0.68},{"k":"p","t":8.81,"v":0.52},
      {"k":"p","t":8.83,"v":0.62},{"k":"p","t":8.83,"v":0.45},{"k":"p","t":8.85,"v":0.72},{"k":"p","t":8.85,"v":0.55},
      {"k":"p","t":8.87,"v":0.80},{"k":"p","t":8.87,"v":0.60},{"k":"p","t":8.89,"v":0.88},{"k":"p","t":8.89,"v":0.65},
      {"k":"p","t":8.91,"v":0.92},{"k":"p","t":8.91,"v":0.75},{"k":"p","t":8.93,"v":0.85},{"k":"p","t":8.93,"v":0.62},
      {"k":"p","t":8.95,"v":0.78},{"k":"p","t":8.95,"v":0.55},{"k":"p","t":8.97,"v":0.70},{"k":"p","t":8.97,"v":0.50},
      {"k":"p","t":8.99,"v":0.65},{"k":"p","t":8.99,"v":0.48},{"k":"p","t":9.01,"v":0.60},{"k":"p","t":9.01,"v":0.42},
      {"k":"p","t":9.03,"v":0.72},{"k":"p","t":9.03,"v":0.55},{"k":"p","t":9.05,"v":0.80},{"k":"p","t":9.05,"v":0.50},
      {"k":"p","t":9.07,"v":0.68},{"k":"p","t":9.07,"v":0.45},{"k":"p","t":9.09,"v":0.62},{"k":"p","t":9.09,"v":0.52},
      {"k":"p","t":9.11,"v":0.55},{"k":"p","t":9.11,"v":0.40},{"k":"p","t":9.13,"v":0.75},{"k":"p","t":9.13,"v":0.58},
      {"k":"p","t":9.15,"v":0.65},{"k":"p","t":9.15,"v":0.48},{"k":"p","t":9.17,"v":0.58},{"k":"p","t":9.17,"v":0.45},
      {"k":"p","t":9.19,"v":0.70},{"k":"p","t":9.19,"v":0.52},{"k":"p","t":9.21,"v":0.62},{"k":"p","t":9.21,"v":0.50},
      {"k":"p","t":9.23,"v":0.75},{"k":"p","t":9.23,"v":0.55},{"k":"p","t":9.25,"v":0.68},{"k":"p","t":9.25,"v":0.48},
      {"k":"p","t":9.55,"v":0.28},{"k":"p","t":9.55,"v":0.25},{"k":"p","t":9.58,"v":0.30},{"k":"p","t":9.58,"v":0.24},
      {"k":"p","t":9.61,"v":0.27},{"k":"p","t":9.61,"v":0.22},{"k":"p","t":9.64,"v":0.32},{"k":"p","t":9.64,"v":0.26},
      {"k":"p","t":9.67,"v":0.30},{"k":"p","t":9.67,"v":0.35},{"k":"p","t":9.70,"v":0.33},{"k":"p","t":9.70,"v":0.28},
      {"k":"p","t":9.73,"v":0.36},{"k":"p","t":9.73,"v":0.30},{"k":"p","t":9.76,"v":0.34},{"k":"p","t":9.76,"v":0.40},
      {"k":"p","t":9.79,"v":0.38},{"k":"p","t":9.79,"v":0.32},{"k":"p","t":9.82,"v":0.42},{"k":"p","t":9.82,"v":0.35},
      {"k":"p","t":9.85,"v":0.45},{"k":"p","t":9.85,"v":0.38},{"k":"p","t":9.88,"v":0.40},{"k":"p","t":9.88,"v":0.36},
      {"k":"p","t":9.90,"v":0.10},{"k":"p","t":9.92,"v":0.42},
      {"k":"p","t":10.08,"v":0.35},{"k":"p","t":10.08,"v":0.40},{"k":"p","t":10.12,"v":0.45},{"k":"p","t":10.12,"v":0.38},
      {"k":"p","t":10.91,"v":0.35},{"k":"p","t":10.91,"v":0.42},{"k":"p","t":10.94,"v":0.40},{"k":"p","t":10.94,"v":0.33},
      {"k":"p","t":10.97,"v":0.45},{"k":"p","t":10.97,"v":0.38},{"k":"p","t":11.00,"v":0.42},{"k":"p","t":11.00,"v":0.36},
      {"k":"p","t":11.03,"v":0.38},{"k":"p","t":11.03,"v":0.44},{"k":"p","t":11.06,"v":0.40},{"k":"p","t":11.06,"v":0.35},
      {"k":"p","t":11.09,"v":0.44},{"k":"p","t":11.09,"v":0.37},{"k":"p","t":11.12,"v":0.36},{"k":"p","t":11.12,"v":0.42},
      {"k":"p","t":11.15,"v":0.40},{"k":"p","t":11.15,"v":0.34},{"k":"p","t":11.18,"v":0.38},{"k":"p","t":11.18,"v":0.43},
      {"k":"p","t":11.21,"v":0.35},{"k":"p","t":11.21,"v":0.40},{"k":"p","t":11.24,"v":0.36},
      {"k":"p","t":11.34,"v":0.45},{"k":"p","t":11.34,"v":0.72},{"k":"p","t":11.36,"v":0.55},{"k":"p","t":11.36,"v":0.48},
      {"k":"p","t":11.38,"v":0.65},{"k":"p","t":11.38,"v":0.50},{"k":"p","t":11.40,"v":0.58},{"k":"p","t":11.40,"v":0.45},
      {"k":"p","t":11.42,"v":0.52},{"k":"p","t":11.42,"v":0.62},{"k":"p","t":11.44,"v":0.70},{"k":"p","t":11.44,"v":0.48},
      {"k":"p","t":11.46,"v":0.60},{"k":"p","t":11.46,"v":0.45},{"k":"p","t":11.48,"v":0.55},{"k":"p","t":11.48,"v":0.42},
      {"k":"p","t":11.50,"v":0.50},{"k":"p","t":11.50,"v":0.40},{"k":"p","t":11.52,"v":0.45},{"k":"p","t":11.52,"v":0.38},
      {"k":"p","t":11.55,"v":0.42},{"k":"p","t":11.55,"v":0.38},{"k":"p","t":11.58,"v":0.40},{"k":"p","t":11.58,"v":0.38},
      {"k":"p","t":11.62,"v":0.38},{"k":"p","t":11.70,"v":0.38},{"k":"p","t":11.74,"v":0.38},{"k":"p","t":11.78,"v":0.38}
    ]
  },
  "vconcat": [
    {
      "title": {"text": "DIQ - 2026-02-13", "offset": 5},
      "width": 1333,
      "height": 299,
      "data": {"name": "top"},
      "encoding": {
        "x": {"field": "t", "type": "quantitative", "scale": {"domain": [1.241, 13.241], "nice": false, "zero": false},
          "axis": {"values": [2,3,4,5,6,7,8,9,10,11,12,13], "labelExpr": "(datum.value < 10 ? '0' : '') + datum.value + ':00'", "grid": false, "tickSize": -5, "tickColor": "#555555", "labelPadding": 8, "labelFontSize": 15.5, "labelFlush": false, "title": null}},
        "y": {"field": "v", "type": "quantitative", "scale": {"domain": [0.303, 3.766], "nice": false, "zero": false},
          "axis": {"values": [0.4,0.5,0.6,0.7,0.8,0.9,1,1.1,1.2,1.3,1.4,1.5,1.6,1.7,1.8,1.9,2,2.1,2.2,2.3,2.4,2.5,2.6,2.7,2.8,2.9,3,3.1,3.2,3.3,3.4,3.5,3.6,3.7],
            "labelExpr": "abs(datum.value*2 - round(datum.value*2)) < 1e-6 ? format(datum.value, '.1~f') : ''",
            "ticks": false, "labelPadding": 6, "labelFontSize": 15.5, "labelOverlap": false, "grid": true, "minExtent": 44, "maxExtent": 44, "title": null,
            "gridColor": {"condition": {"test": "abs(datum.value*2 - round(datum.value*2)) < 1e-6", "value": "#7a7a7a"}, "value": "#cfcfcf"},
            "gridOpacity": {"condition": {"test": "abs(datum.value - round(datum.value)) < 1e-6", "value": 1}, "value": 0.55}}}
      },
      "layer": [
        {"transform": [{"filter": "datum.s !== 'gc2'"}],
          "mark": {"type": "line", "stroke": "#b8b8b8", "strokeWidth": 0.9, "opacity": 0.7, "clip": true},
          "encoding": {"detail": {"field": "s", "type": "nominal"}}},
        {"mark": {"type": "point", "filled": true, "size": 90, "strokeWidth": 1.4, "opacity": 0.9, "clip": true},
          "encoding": {
            "shape": {"field": "s", "type": "nominal",
              "scale": {"domain": ["gc1","wfs1","dimm","gc2","wfs2"],
                "range": ["M-0.85,-0.85L0.85,0.85M0.85,-0.85L-0.85,0.85", "M0,-0.95L0.75,0L0,0.95L-0.75,0Z", "M-2.2,0L-0.75,0M0.75,0L2.2,0M-0.75,0A0.75,0.75 0 1,0 0.75,0A0.75,0.75 0 1,0 -0.75,0Z", "M0,-1.1L0,1.1M-1.1,0L1.1,0", "M-2.2,0L-0.9,0M0.9,0L2.2,0M-0.8,-0.6L0.8,-0.6L0,0.75Z"]},
              "legend": {"title": null, "orient": "none", "legendX": 21, "legendY": 3, "columns": 2, "padding": 14, "rowPadding": 9, "columnPadding": 24, "labelOffset": 11, "labelFontSize": 13, "labelFont": "DejaVu Sans", "labelColor": "black", "strokeColor": "#222222", "fillColor": "white", "symbolSize": 100, "symbolStrokeWidth": 1.5, "cornerRadius": 0, "symbolOpacity": 1}},
            "stroke": {"field": "s", "type": "nominal",
              "scale": {"domain": ["gc1","wfs1","dimm","gc2","wfs2"], "range": ["#e3a845", "#ee2a00", "#1010b0", "#2b7d7e", "#8a8a8a"]}},
            "fill": {"field": "s", "type": "nominal",
              "scale": {"domain": ["gc1","wfs1","dimm","gc2","wfs2"], "range": ["transparent", "#ffc400", "#5c6484", "transparent", "#4a5068"]}}
          }}
      ]
    },
    {
      "title": {"text": "Guider — WFS", "offset": 0},
      "width": 1333,
      "height": 109,
      "data": {"name": "mid"},
      "encoding": {
        "x": {"field": "t", "type": "quantitative", "scale": {"domain": [1.241, 13.241], "nice": false, "zero": false},
          "axis": {"values": [2,3,4,5,6,7,8,9,10,11,12,13], "labelExpr": "(datum.value < 10 ? '0' : '') + datum.value + ':00'", "grid": false, "tickSize": -5, "tickColor": "#555555", "labelPadding": 8, "labelFontSize": 15.5, "labelFlush": false, "title": null}},
        "y": {"field": "v", "type": "quantitative", "scale": {"domain": [-1.32, 2.5], "nice": false, "zero": false},
          "axis": {"values": [-1.3,-1.2,-1.1,-1,-0.9,-0.8,-0.7,-0.6,-0.5,-0.4,-0.3,-0.2,-0.1,0,0.1,0.2,0.3,0.4,0.5,0.6,0.7,0.8,0.9,1,1.1,1.2,1.3,1.4,1.5,1.6,1.7,1.8,1.9,2,2.1,2.2,2.3,2.4,2.5],
            "labelExpr": "abs(datum.value - round(datum.value)) < 1e-6 ? format(datum.value, 'd') : ''",
            "ticks": false, "labelPadding": 6, "labelFontSize": 15.5, "labelOverlap": false, "grid": true, "minExtent": 44, "maxExtent": 44, "title": null,
            "gridColor": {"condition": {"test": "abs(datum.value*2 - round(datum.value*2)) < 1e-6", "value": "#7a7a7a"}, "value": "#dddddd"},
            "gridOpacity": {"condition": {"test": "abs(datum.value - round(datum.value)) < 1e-6", "value": 1}, "value": 0.55}}}
      },
      "layer": [
        {"transform": [{"filter": "datum.s === 'd'"}], "mark": {"type": "line", "stroke": "#c4c4c4", "strokeWidth": 0.9, "clip": true}},
        {"transform": [{"filter": "datum.s === 'd'"}], "mark": {"type": "circle", "size": 100, "fill": "#800080", "stroke": "#dcd0e6", "strokeWidth": 1, "opacity": 1, "clip": true}},
        {"transform": [{"filter": "datum.s === 'x'"}], "mark": {"type": "point", "shape": "M-1,-1L1,1M1,-1L-1,1", "size": 55, "filled": false, "stroke": "#ff0000", "strokeWidth": 2.5, "opacity": 1, "clip": true}}
      ]
    },
    {
      "title": {"text": "BLIQ+HO+LO — BLIQ+HO", "offset": 0},
      "width": 1333,
      "height": 111,
      "data": {"name": "bot"},
      "encoding": {
        "x": {"field": "t", "type": "quantitative", "scale": {"domain": [1.241, 13.241], "nice": false, "zero": false},
          "axis": {"values": [2,3,4,5,6,7,8,9,10,11,12,13], "labelExpr": "(datum.value < 10 ? '0' : '') + datum.value + ':00'", "grid": false, "tickSize": -5, "tickColor": "#555555", "labelPadding": 8, "labelFontSize": 15.5, "labelFlush": false, "title": null}},
        "y": {"field": "v", "type": "quantitative", "scale": {"domain": [-0.21, 1.99], "nice": false, "zero": false},
          "axis": {"values": [-0.2,-0.15,-0.1,-0.05,0,0.05,0.1,0.15,0.2,0.25,0.3,0.35,0.4,0.45,0.5,0.55,0.6,0.65,0.7,0.75,0.8,0.85,0.9,0.95,1,1.05,1.1,1.15,1.2,1.25,1.3,1.35,1.4,1.45,1.5,1.55,1.6,1.65,1.7,1.75,1.8,1.85,1.9,1.95],
            "labelExpr": "abs(datum.value*2 - round(datum.value*2)) < 1e-6 ? (datum.value == 0 ? '0' : format(datum.value, '.1f')) : ''",
            "ticks": false, "labelPadding": 6, "labelFontSize": 15.5, "labelOverlap": false, "grid": true, "minExtent": 44, "maxExtent": 44, "title": null,
            "gridColor": {"condition": {"test": "abs(datum.value*2 - round(datum.value*2)) < 1e-6", "value": "#7a7a7a"}, "value": "#e6e6e6"}}}
      },
      "layer": [
        {"transform": [{"filter": "datum.k === 'band'"}], "mark": {"type": "rect", "fill": "#ff0000", "opacity": 0.07},
          "encoding": {"x2": {"field": "t2"}, "y2": {"field": "v2"}}},
        {"transform": [{"filter": "datum.k === 'lim'"}], "mark": {"type": "rule", "stroke": "#b22234", "strokeDash": [4, 2], "strokeWidth": 1.3},
          "encoding": {"x2": {"field": "t2"}}},
        {"transform": [{"filter": "datum.k === 'p'"}], "mark": {"type": "line", "stroke": "#c4c4c4", "strokeWidth": 0.9, "clip": true}},
        {"transform": [{"filter": "datum.k === 'p'"}], "mark": {"type": "circle", "size": 85, "fill": "#000080", "stroke": "#d0d0e4", "strokeWidth": 1, "opacity": 1, "clip": true}}
      ]
    }
  ]
}
